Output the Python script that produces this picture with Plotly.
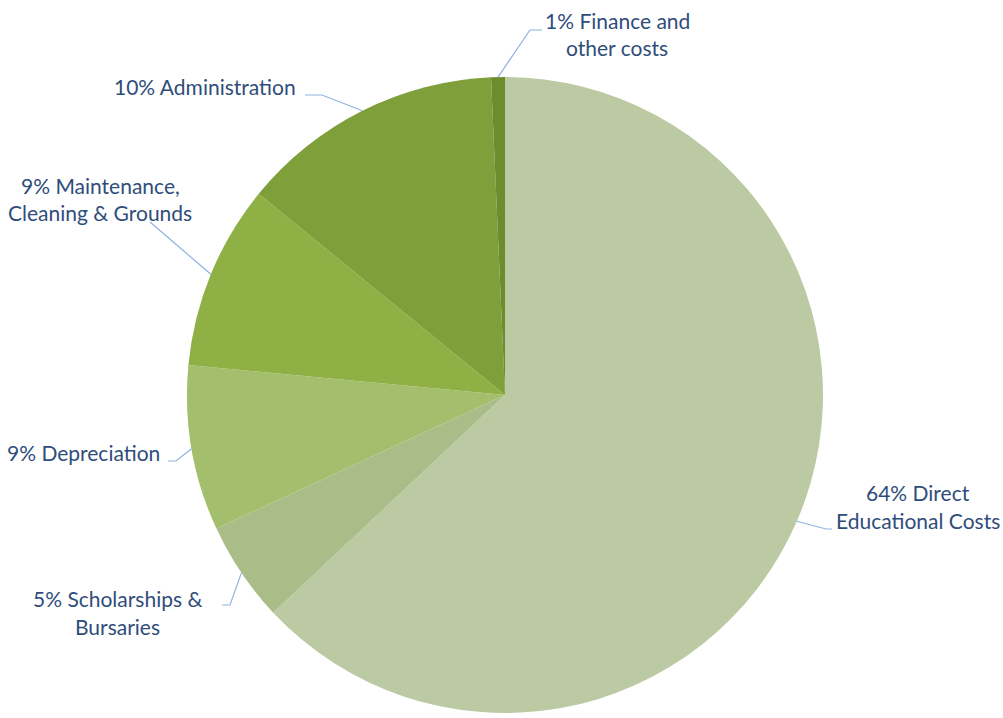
import math
import plotly.graph_objects as go

categories = ["Direct Educational Costs", "Scholarships & Bursaries", "Depreciation",
              "Maintenance, Cleaning & Grounds", "Administration", "Finance and other costs"]
values = [63.0, 5.1, 8.4, 9.4, 13.4, 0.7]
label_lines = [
    ["64% Direct", "Educational Costs"],
    ["5% Scholarships &", "Bursaries"],
    ["9% Depreciation"],
    ["9% Maintenance,", "Cleaning & Grounds"],
    ["10% Administration"],
    ["1% Finance and", "other costs"],
]
colors = ["#bccaa3", "#aabd88", "#a3bf6d", "#8fb045", "#7e9f39", "#6e8b2e"]

W, H = 1003, 718
CX, CY, R = 505, 395, 318

# label placement: (x, first-line y, xanchor), elbow start (x,y) and short horizontal end
label_pos = [
    (918, 492, "center"),
    (117, 598, "center"),
    (162, 452, "right"),
    (100, 185, "center"),
    (298, 87, "right"),
    (617, 20, "center"),
]
elbows = [
    ((826, 529), (832, 529)),
    ((230, 605), (222, 605)),
    ((176, 461), (168, 461)),
    ((150, 222), (150, 222)),
    ((322, 95), (305, 95)),
    ((530, 30), (542, 30)),
]
LINE_H = 28

fig = go.Figure()
fig.add_trace(go.Pie(
    labels=categories, values=values, sort=False, direction="clockwise", rotation=0,
    marker=dict(colors=colors, line=dict(width=0)),
    textinfo="none", hoverinfo="label+percent", showlegend=False,
    domain=dict(x=[(CX - R) / W, (CX + R) / W], y=[(H - CY - R) / H, (H - CY + R) / H]),
))

def px(x):
    return x / W

def py(y):
    return 1 - y / H

total = sum(values)
cum = 0.0
shapes = []
annotations = []
for i, v in enumerate(values):
    mid = (cum + v / 2) / total * 2 * math.pi
    cum += v
    ex = CX + R * math.sin(mid)
    ey = CY - R * math.cos(mid)
    (x1, y1), (x2, y2) = elbows[i]
    path = f"M {px(ex)} {py(ey)} L {px(x1)} {py(y1)} L {px(x2)} {py(y2)}"
    shapes.append(dict(type="path", xref="paper", yref="paper", path=path,
                       line=dict(color="#8db3e2", width=1.2)))
    lx, ly, anchor = label_pos[i]
    for j, t in enumerate(label_lines[i]):
        annotations.append(dict(
            x=px(lx), y=py(ly + j * LINE_H), xref="paper", yref="paper",
            text=t, showarrow=False, xanchor=anchor, yanchor="middle",
            font=dict(family="Lato, 'Open Sans', sans-serif", size=21, color="#2f4d7a"),
        ))

fig.update_layout(
    width=W, height=H, margin=dict(l=0, r=0, t=0, b=0),
    paper_bgcolor="white", plot_bgcolor="white",
    shapes=shapes, annotations=annotations,
)
fig.write_html("out.html", config={"displayModeBar": False},
               post_script="document.body.style.margin='0';")
